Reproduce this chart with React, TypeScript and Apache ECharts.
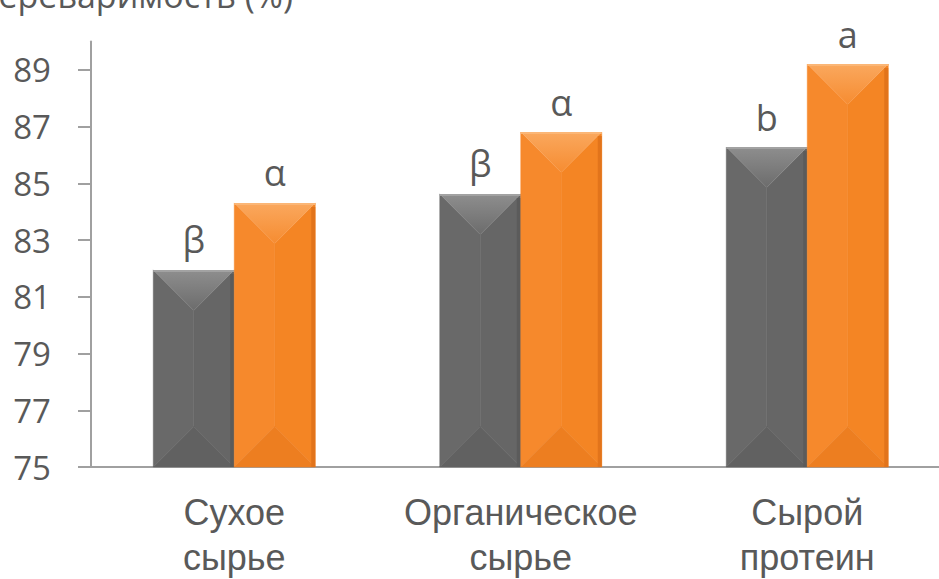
import React, { useEffect, useRef } from "react";
import * as echarts from "echarts";

const categories = ["Сухое\nсырье", "Органическое\nсырье", "Сырой\nпротеин"];
const grayValues = [81.95, 84.63, 86.28];
const orangeValues = [84.31, 86.81, 89.21];
const grayLabels = ["β", "β", "b"];
const orangeLabels = ["α", "α", "a"];
const yTicks = [75, 77, 79, 81, 83, 85, 87, 89];
const yMin = 75;
const yMax = 90;
const axisTitle = "Переваримость (%)";

const TEXT = "#595959";
const BAR_W = 81;

const grayPalette = {
  top: ["#8e8e8e", "#6c6c6c"],
  left: "#696969",
  right: "#666666",
  bottom: "#616161",
  rightEdge: "#5b5b5b",
  edge: "#a2a2a2",
};
const orangePalette = {
  top: ["#faa85e", "#f68c31"],
  left: "#f6892c",
  right: "#f48524",
  bottom: "#ed7e20",
  rightEdge: "#e2741b",
  edge: "#fbb676",
};

function makeRender(side: "left" | "right", palette: any, labels: string[]) {
  return (params: any, api: any) => {
    const idx = api.value(0);
    const val = api.value(1);
    const top = api.coord([idx, val]);
    const base = api.coord([idx, yMin]);
    const x0 = side === "left" ? top[0] - BAR_W : top[0];
    const x1 = x0 + BAR_W;
    const y0 = top[1];
    const y1 = base[1];
    const b = BAR_W / 2;
    const cx = x0 + b;
    const poly = (pts: number[][], fill: any) => ({
      type: "polygon",
      shape: { points: pts },
      style: { fill, stroke: typeof fill === "string" ? fill : undefined, lineWidth: 0.5 },
    });
    return {
      type: "group",
      children: [
        poly([[x0, y0], [cx, y0 + b], [cx, y1 - b], [x0, y1]], palette.left),
        poly([[x1, y0], [x1, y1], [cx, y1 - b], [cx, y0 + b]], palette.right),
        poly([[x0, y1], [x1, y1], [cx, y1 - b]], palette.bottom),
        poly(
          [[x0, y0], [x1, y0], [cx, y0 + b]],
          new echarts.graphic.LinearGradient(0, 0, 0, 1, [
            { offset: 0, color: palette.top[0] },
            { offset: 1, color: palette.top[1] },
          ])
        ),
        { type: "rect", shape: { x: x1 - 4, y: y0 + 4, width: 4, height: y1 - y0 - 4 }, style: { fill: palette.rightEdge } },
        { type: "rect", shape: { x: x0, y: y0, width: BAR_W, height: 2 }, style: { fill: palette.edge } },
        {
          type: "text",
          x: cx,
          y: y0 - 12,
          style: {
            text: labels[params.dataIndex],
            fill: TEXT,
            fontSize: 36,
            fontFamily: "Open Sans",
            align: "center",
            verticalAlign: "bottom",
          },
        },
      ],
    };
  };
}

export default function App() {
  const ref = useRef<HTMLDivElement>(null);
  useEffect(() => {
    if (!ref.current) return;
    const chart = echarts.init(ref.current, undefined, { renderer: "svg" });
    chart.setOption({
      animation: false,
      backgroundColor: "#ffffff",
      grid: { left: 91, top: 41.6, width: 859.5, height: 425.4, outerBoundsMode: "none", containLabel: false },
      xAxis: {
        type: "category",
        data: categories,
        axisLine: { show: true, lineStyle: { color: "#a0a0a0", width: 2 } },
        axisTick: { show: false },
        axisLabel: {
          interval: 0,
          hideOverlap: false,
          color: TEXT,
          fontSize: 36,
          fontFamily: "Liberation Sans",
          lineHeight: 45,
          margin: 23,
        },
      },
      yAxis: {
        type: "value",
        min: yMin,
        max: yMax,
        splitLine: { show: false },
        axisLine: { show: true, lineStyle: { color: "#a0a0a0", width: 2 } },
        axisTick: {
          show: true,
          length: 13,
          customValues: yTicks,
          lineStyle: { color: "#a0a0a0", width: 2 },
        },
        axisLabel: {
          customValues: yTicks,
          color: TEXT,
          fontSize: 33,
          fontFamily: "Open Sans",
          margin: 40,
        },
      },
      graphic: [
        {
          type: "text",
          x: 293,
          y: -5,
          style: {
            text: axisTitle,
            fill: TEXT,
            fontSize: 34,
            fontFamily: "Open Sans",
            align: "right",
            verticalAlign: "middle",
          },
        },
      ],
      series: [
        {
          type: "custom",
          name: "gray",
          renderItem: makeRender("left", grayPalette, grayLabels),
          encode: { x: 0, y: 1 },
          data: grayValues.map((v, i) => [i, v]),
        },
        {
          type: "custom",
          name: "orange",
          renderItem: makeRender("right", orangePalette, orangeLabels),
          encode: { x: 0, y: 1 },
          data: orangeValues.map((v, i) => [i, v]),
        },
      ],
    });
    return () => chart.dispose();
  }, []);
  return (
    <div
      ref={ref}
      style={{ position: "absolute", left: 0, top: 0, width: 939, height: 579 }}
    />
  );
}
